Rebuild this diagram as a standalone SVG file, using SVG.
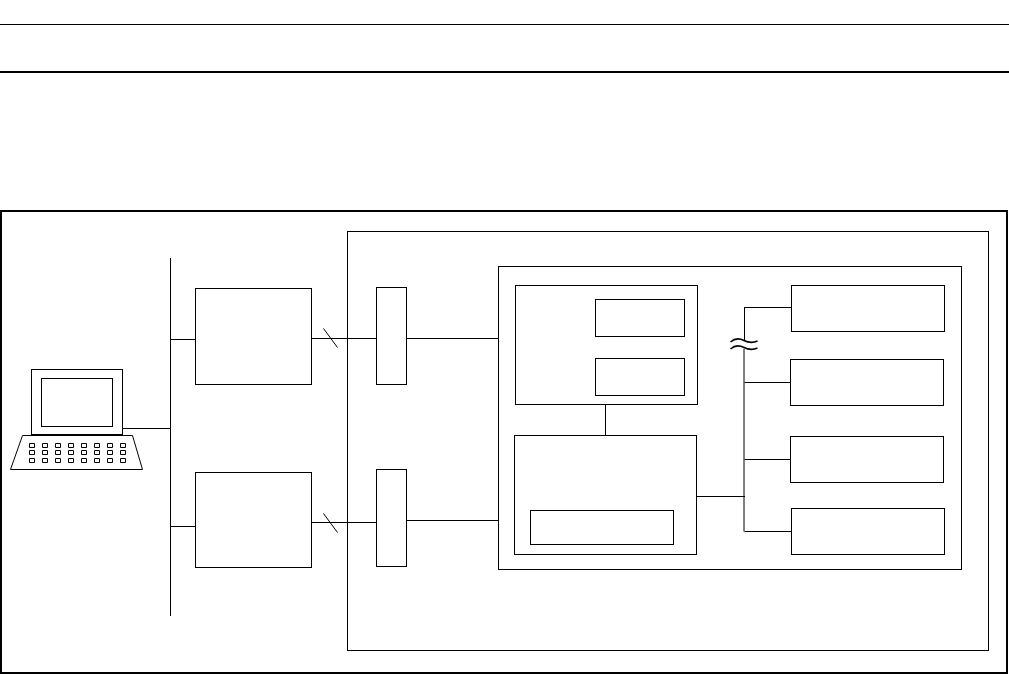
<svg xmlns="http://www.w3.org/2000/svg" width="1009" height="674" viewBox="0 0 1009 674">
<style>
rect,path{fill:none;stroke:#000;stroke-width:1}
.o{stroke-width:2}
.w{stroke-width:1.6}
</style>
<rect width="1009" height="674" style="fill:#fff;stroke:none"/>
<g id="rules"><path d="M0 24.5H1009"/><path class="o" d="M0 72H1009"/></g>
<g id="outer"><rect class="o" x="1" y="211" width="1006" height="462"/></g>
<g id="panel"><rect x="347.500" y="231.500" width="641" height="419"/></g>
<g id="inner"><rect x="498.500" y="266.500" width="463" height="303"/></g>
<g id="computer">
<rect x="31.500" y="369.500" width="91" height="65"/>
<rect x="41.500" y="378.500" width="71" height="48"/>
<path d="M22.500 435.500H132.500L142.500 469.500H10.500Z"/>
<path d="M29.500 443.500h5v4h-5zM42.500 443.500h5v4h-5zM55.500 443.500h5v4h-5zM68.500 443.500h5v4h-5zM81.500 443.500h5v4h-5zM94.500 443.500h5v4h-5zM107.500 443.500h5v4h-5zM120.500 443.500h5v4h-5zM29.500 450.500h5v4h-5zM42.500 450.500h5v4h-5zM55.500 450.500h5v4h-5zM68.500 450.500h5v4h-5zM81.500 450.500h5v4h-5zM94.500 450.500h5v4h-5zM107.500 450.500h5v4h-5zM120.500 450.500h5v4h-5zM29.500 458.500h5v4h-5zM42.500 458.500h5v4h-5zM55.500 458.500h5v4h-5zM68.500 458.500h5v4h-5zM81.500 458.500h5v4h-5zM94.500 458.500h5v4h-5zM107.500 458.500h5v4h-5zM120.500 458.500h5v4h-5z"/>
</g>
<g id="node-a"><rect x="195.500" y="288.500" width="116" height="96"/></g>
<g id="node-b"><rect x="195.500" y="472.500" width="116" height="95"/></g>
<g id="port-a"><rect x="376.500" y="287.500" width="30" height="97"/></g>
<g id="port-b"><rect x="376.500" y="469.500" width="30" height="97"/></g>
<g id="unit-top"><rect x="515.500" y="285.500" width="182" height="119"/></g>
<g id="unit-top-a"><rect x="595.500" y="299.500" width="89" height="37"/></g>
<g id="unit-top-b"><rect x="595.500" y="358.500" width="89" height="37"/></g>
<g id="unit-bottom"><rect x="514.500" y="435.500" width="182" height="119"/></g>
<g id="unit-bottom-a"><rect x="530.500" y="510.500" width="143" height="34"/></g>
<g id="dev-1"><rect x="791.500" y="285.500" width="153" height="46"/></g>
<g id="dev-2"><rect x="790.500" y="359.500" width="153" height="46"/></g>
<g id="dev-3"><rect x="790.500" y="436.500" width="153" height="46"/></g>
<g id="dev-4"><rect x="791.500" y="508.500" width="153" height="46"/></g>
<g id="connectors">
<path d="M170.500 258V616"/>
<path d="M122 428.500H171"/>
<path d="M171 339.500H196"/>
<path d="M171 526.500H196"/>
<path d="M311 338.500H377"/>
<path d="M311 522.500H377"/>
<path d="M323.500 328.500L337.500 347.500"/>
<path d="M323.500 513.500L337.500 532.500"/>
<path d="M407 338.500H498"/>
<path d="M407 520.500H498"/>
<path d="M605.500 404V435"/>
<path d="M696 496.500H745"/>
<path d="M744.500 307.500H792"/>
<path d="M744.500 307V340"/>
<path d="M744 349V531.500"/>
<path d="M744.500 382.500H791"/>
<path d="M744.500 459.500H791"/>
<path d="M744.500 531.500H792"/>
<path class="w" d="M730.500 342C735 338 739 338 744 340.500S753 343 757.500 341"/>
<path class="w" d="M730.500 349C735 345 739 345 744 347.500S753 350 757.500 348"/>
</g>
</svg>
